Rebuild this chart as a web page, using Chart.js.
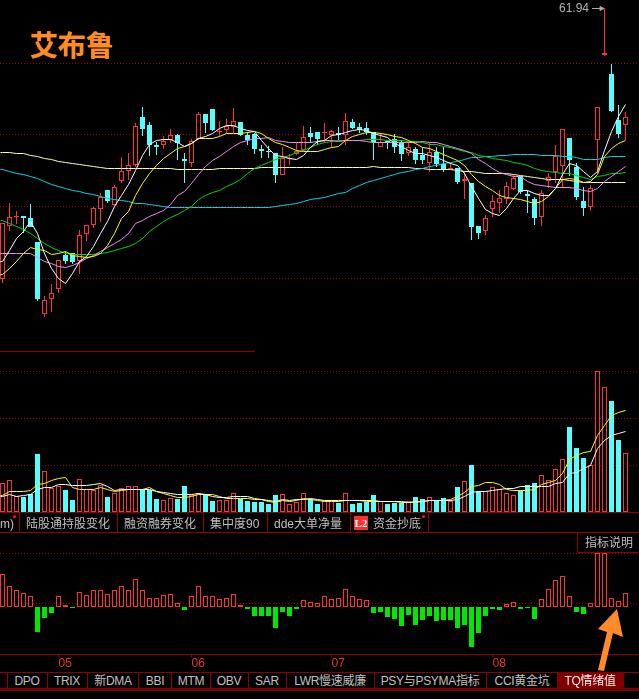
<!DOCTYPE html>
<html>
<head>
<meta charset="utf-8">
<title>艾布鲁</title>
<script src="https://cdn.jsdelivr.net/npm/chart.js@4/dist/chart.umd.min.js"></script>
<style>
  html, body { margin: 0; padding: 0; background: #000; overflow: hidden; }
  #page { position: relative; width: 639px; height: 699px; background: #000; overflow: hidden; }
  canvas { position: absolute; left: 0; display: block; }
  .t { position: absolute; white-space: nowrap; color: #c0c0c0; font: 12px/14px "Liberation Sans", "Noto Sans CJK SC", sans-serif; }
  .row2 .t { top: 674px; letter-spacing: -0.3px; transform: translateX(-50%); }
  .line { position: absolute; background: #8c0000; }
  .dot { position: absolute; width: 3px; height: 3px; background: #ff1414; border-radius: 50%; }
  #logo { position: absolute; left: 30px; top: 26px; color: #ff8c1e; font: 700 28px/36px "Noto Sans CJK SC", sans-serif; text-shadow: 0 0 1px #ff8c1e; }
</style>
</head>
<body>
<div id="page">
  <canvas id="chartPrice" width="639" height="352" style="top:0"></canvas>
  <canvas id="chartVol" width="639" height="161" style="top:351px"></canvas>
  <canvas id="chartTq" width="639" height="122" style="top:550px"></canvas>

  <div id="logo">艾布鲁</div>
  <div class="t" id="hiLabel" style="left:559px;top:1px;color:#b4b4b4"></div>
  <svg style="position:absolute;left:590px;top:3px" width="16" height="10">
    <path d="M2 5.5H13M10 3.5L14 5.5L10 7.5Z" stroke="#a8a8a8" fill="#a8a8a8" stroke-width="1"/>
  </svg>

  <div class="line" style="left:0;top:351px;width:255px;height:1px"></div>

  <!-- upper tab row -->
  <div class="line" style="left:0;top:512px;width:639px;height:1px"></div>
  <div class="line" style="left:0;top:532px;width:639px;height:1px"></div>
  <div class="line" style="left:19px;top:512px;width:1px;height:20px"></div>
  <div class="line" style="left:117px;top:512px;width:1px;height:20px"></div>
  <div class="line" style="left:203px;top:512px;width:1px;height:20px"></div>
  <div class="line" style="left:267px;top:512px;width:1px;height:20px"></div>
  <div class="line" style="left:350px;top:512px;width:1px;height:20px"></div>
  <div class="line" style="left:428px;top:512px;width:1px;height:20px"></div>
  <div class="t" style="left:0;top:517px">m)</div>
  <div class="dot" style="left:13px;top:515px"></div>
  <div class="t" style="left:26px;top:517px">陆股通持股变化</div>
  <div class="t" style="left:124px;top:517px">融资融券变化</div>
  <div class="t" style="left:210px;top:517px">集中度90</div>
  <div class="t" style="left:274px;top:517px">dde大单净量</div>
  <div style="position:absolute;left:354px;top:516px;width:14px;height:14px;background:#ff2d2d;color:#fff;font:700 11px/14px 'Liberation Serif',serif;text-align:center">L2</div>
  <div class="t" style="left:373px;top:517px">资金抄底</div>
  <div class="dot" style="left:422px;top:515px"></div>

  <!-- indicator note box -->
  <div class="line" style="left:577px;top:532px;width:1px;height:21px"></div>
  <div class="line" style="left:577px;top:552px;width:62px;height:1px"></div>
  <div class="t" style="left:585px;top:536px">指标说明</div>

  <!-- lower tab row -->
  <div class="line" style="left:0;top:672px;width:639px;height:1px"></div>
  <div class="line" style="left:0;top:688px;width:639px;height:3px;background:#800000"></div>
  <div class="line" style="left:7px;top:672px;width:1px;height:17px"></div>
  <div class="line" style="left:47px;top:672px;width:1px;height:17px"></div>
  <div class="line" style="left:87px;top:672px;width:1px;height:17px"></div>
  <div class="line" style="left:138px;top:672px;width:1px;height:17px"></div>
  <div class="line" style="left:171px;top:672px;width:1px;height:17px"></div>
  <div class="line" style="left:210px;top:672px;width:1px;height:17px"></div>
  <div class="line" style="left:248px;top:672px;width:1px;height:17px"></div>
  <div class="line" style="left:286px;top:672px;width:1px;height:17px"></div>
  <div class="line" style="left:374px;top:672px;width:1px;height:17px"></div>
  <div class="line" style="left:486px;top:672px;width:1px;height:17px"></div>
  <div style="position:absolute;left:557px;top:672px;width:67px;height:17px;background:#800000"></div>
  <div class="row2">
    <div class="t" style="left:27px">DPO</div>
    <div class="t" style="left:67px">TRIX</div>
    <div class="t" style="left:113px">新DMA</div>
    <div class="t" style="left:155px">BBI</div>
    <div class="t" style="left:191px">MTM</div>
    <div class="t" style="left:229px">OBV</div>
    <div class="t" style="left:267px">SAR</div>
    <div class="t" style="left:330px">LWR慢速威廉</div>
    <div class="t" style="left:430px">PSY与PSYMA指标</div>
    <div class="t" style="left:522px">CCI黄金坑</div>
    <div class="t" style="left:590px;color:#f0f0f0">TQ情绪值</div>
  </div>

  <svg style="position:absolute;left:0;top:0;pointer-events:none" width="639" height="699">
    <polygon fill="#ff8c28" points="598,670 604,671 613,633 623,637 617,609 598,629 607,632"/>
  </svg>
</div>

<script>
// --- price panel (daily candles) ---
const opens = [
  34.81,40.14,41.04,41.14,40.91,38.54,31.31,32.81,33.81,37.24,
  37.41,36.67,39.31,40.27,41.81,43.74,42.27,44.67,45.61,46.21,
  51.01,50.24,48.21,48.21,48.74,49.21,46.84,46.47,48.87,51.34,
  51.84,49.54,49.74,50.07,50.54,49.24,49.31,47.81,47.64,47.41,
  45.27,46.84,47.37,47.74,49.47,49.54,49.44,49.24,49.47,49.21,
  50.54,50.07,49.94,49.54,48.04,48.67,48.81,48.47,47.47,47.84,
  47.24,46.47,47.57,46.31,45.74,45.91,44.61,44.44,40.11,39.67,
  41.87,42.41,42.81,43.84,45.17,43.34,42.81,41.07,44.61,45.54,
  46.11,48.94,46.04,42.64,42.07,48.71,57.24,55.34,50.71,50.21
];
const closes = [
  40.41,41.01,41.14,40.97,40.01,32.84,32.71,33.41,36.71,36.64,
  36.57,39.21,40.21,41.91,43.07,42.67,44.01,45.61,46.27,50.11,
  49.87,48.24,48.07,48.61,49.27,48.41,46.67,48.67,51.31,50.41,
  49.74,49.67,50.11,50.61,49.21,48.74,47.84,47.67,47.51,45.24,
  46.97,46.97,47.67,49.01,49.04,48.81,49.57,49.64,49.21,50.61,
  49.97,49.74,49.54,48.51,48.51,48.54,48.04,47.37,48.01,46.77,
  46.74,47.51,46.34,45.81,45.94,44.57,44.81,40.04,39.47,40.91,
  42.61,42.91,44.11,44.91,43.57,43.17,40.97,43.47,45.07,47.17,
  49.81,46.74,43.07,41.94,43.91,52.07,57.41,51.67,49.34,51.01
];
const highs = [
  40.41,42.41,41.64,41.14,42.31,38.54,33.14,34.34,36.74,37.57,
  37.47,39.74,40.21,42.01,43.41,43.74,44.24,47.07,47.41,50.41,
  52.01,50.51,48.57,49.17,49.84,49.34,47.41,48.81,51.54,51.34,
  51.84,50.64,50.84,51.94,50.54,49.57,49.47,48.24,48.14,47.41,
  48.01,47.34,48.57,50.14,50.07,49.54,50.47,49.74,50.07,51.41,
  50.84,50.47,50.54,49.54,49.47,48.67,49.34,48.74,48.57,48.07,
  47.91,48.41,48.07,48.07,46.41,45.91,45.57,44.44,40.11,41.24,
  43.24,43.74,44.57,45.24,45.17,43.74,43.07,43.74,45.47,48.24,
  49.81,48.94,46.41,44.07,44.24,52.07,61.94,56.34,52.24,51.54
];
const lows = [
  34.41,39.67,40.34,39.41,40.01,32.67,31.07,31.57,33.47,36.34,
  36.34,35.34,38.67,39.97,40.54,42.41,42.07,44.47,44.74,46.07,
  49.17,47.14,47.24,47.84,48.41,46.74,44.47,46.07,48.74,49.41,
  49.67,49.14,49.41,49.41,49.17,48.24,47.34,46.91,46.91,44.47,
  45.24,46.24,47.24,47.67,48.41,48.24,48.41,48.01,48.74,48.24,
  49.81,49.47,49.24,46.74,48.01,47.81,47.47,46.64,47.14,46.34,
  46.34,45.57,46.07,45.57,45.74,44.34,42.84,38.74,38.87,39.24,
  41.07,41.41,42.34,43.74,43.34,41.47,40.24,40.17,43.91,44.47,
  43.91,45.17,42.74,41.17,41.67,45.41,57.17,51.57,48.97,48.74
];

// moving averages
const ma5 = [
  36.57,37.74,38.91,39.57,40.57,39.41,37.41,35.91,34.91,34.41,
  35.41,36.57,37.07,38.07,39.41,40.57,42.07,43.24,44.24,45.74,
  47.24,48.24,48.74,48.81,48.81,48.47,48.14,48.41,48.87,49.14,
  49.34,49.91,50.24,50.17,49.91,49.67,49.57,48.74,47.91,47.24,
  47.07,46.91,46.81,47.24,48.01,48.57,48.74,49.21,49.31,49.47,
  49.67,49.81,49.67,49.41,49.24,49.01,48.41,48.07,47.74,47.41,
  47.41,47.24,47.01,46.67,46.41,46.17,45.41,44.07,42.91,41.81,
  41.41,41.17,41.91,42.91,43.74,43.67,43.34,43.24,43.24,43.91,
  45.24,46.41,46.24,45.57,45.01,45.57,47.74,49.57,51.07,52.24
];
const ma10 = [
  35.31,35.91,36.57,37.34,37.97,37.81,37.67,37.24,37.37,37.57,
  37.17,37.07,36.97,37.07,37.41,38.24,39.41,40.91,41.57,43.24,
  44.41,45.41,46.24,46.91,47.41,47.91,48.14,48.41,48.84,48.91,
  48.91,49.14,49.34,49.41,49.41,49.47,49.57,49.41,48.91,48.47,
  48.24,48.01,47.74,47.64,47.57,47.64,47.81,47.97,48.14,48.74,
  49.07,49.31,49.51,49.47,49.41,49.31,49.14,48.97,48.74,48.41,
  48.01,47.84,47.57,47.31,47.01,46.67,46.17,45.24,44.57,44.07,
  43.67,43.17,43.01,42.91,42.74,42.57,42.34,42.57,43.07,43.91,
  44.74,44.91,44.74,44.47,44.57,45.24,47.07,47.91,48.41,48.67
];
const ma20 = [
  37.41,37.41,37.41,37.41,37.41,37.01,36.57,36.34,36.14,36.01,
  36.24,36.51,36.84,37.17,37.57,38.01,38.41,38.84,39.41,40.34,
  40.74,41.07,41.41,41.74,42.24,43.24,43.57,44.41,45.24,46.07,
  46.67,47.14,47.57,48.07,48.47,48.74,48.84,48.91,48.97,48.74,
  48.57,48.54,48.51,48.51,48.51,48.57,48.67,48.67,48.64,48.67,
  48.74,48.67,48.57,48.51,48.51,48.51,48.51,48.51,48.51,48.54,
  48.57,48.54,48.47,48.31,48.07,47.91,47.67,47.41,46.74,46.34,
  45.91,45.51,45.24,45.14,45.07,44.57,44.34,44.14,44.07,43.97,
  43.97,44.01,43.91,43.74,43.64,43.91,44.57,45.07,45.57,46.14
];
const ma30 = [
  40.67,40.41,40.07,39.74,39.34,38.91,38.34,38.01,37.67,37.41,
  37.31,37.24,37.24,37.31,37.41,37.51,37.67,37.84,38.07,38.34,
  38.91,39.57,40.07,40.57,40.97,41.34,41.67,42.07,42.74,43.24,
  43.47,43.74,44.07,44.41,44.74,45.34,45.91,46.24,46.51,46.74,
  46.97,47.24,47.51,47.74,48.01,48.31,48.51,48.64,48.67,48.67,
  48.71,48.74,48.77,48.81,48.77,48.74,48.71,48.67,48.61,48.57,
  48.54,48.31,48.24,48.14,47.97,47.81,47.64,47.47,47.24,47.07,
  46.94,46.81,46.67,46.51,46.34,46.17,45.94,45.74,45.61,45.51,
  45.41,45.34,45.17,44.97,44.81,45.07,45.21,45.34,45.41,45.51
];
const ma60 = [
  47.54,47.51,47.41,47.34,47.17,47.07,46.91,46.74,46.64,46.54,
  46.41,46.31,46.17,46.11,46.01,45.94,45.91,45.91,45.91,45.91,
  45.87,45.87,45.87,45.84,45.84,45.81,45.81,45.81,45.81,45.81,
  45.81,45.84,45.87,45.91,45.91,45.94,45.94,45.97,45.97,45.97,
  45.97,45.97,45.97,46.01,46.01,46.01,46.01,46.01,46.01,46.01,
  46.01,46.01,46.01,46.07,46.04,46.01,46.01,45.97,45.97,45.91,
  45.91,45.81,45.81,45.81,45.77,45.71,45.64,45.57,45.51,45.44,
  45.41,45.37,45.34,45.27,45.17,45.07,45.01,44.94,44.81,44.77,
  44.74,44.67,44.61,44.54,44.51,44.51,44.51,44.51,44.51,44.51
];
const ma120 = [
  45.81,45.64,45.41,45.27,45.11,44.91,44.64,44.31,44.07,43.87,
  43.74,43.61,43.44,43.31,43.14,42.94,42.81,42.71,42.57,42.44,
  42.37,42.27,42.17,42.07,42.04,42.01,41.97,41.97,42.01,42.01,
  42.01,42.01,42.01,42.01,42.01,42.01,42.01,42.01,42.04,42.11,
  42.17,42.31,42.41,42.57,42.74,42.91,43.01,43.21,43.34,43.47,
  43.84,44.17,44.47,44.67,44.87,45.14,45.31,45.47,45.64,45.81,
  45.94,46.14,46.24,46.41,46.51,46.64,46.81,46.97,47.04,47.07,
  47.14,47.17,47.24,47.27,47.31,47.31,47.27,47.24,47.21,47.17,
  47.14,47.07,46.97,46.84,46.77,46.81,47.01,47.07,47.11,47.14
];

// --- volume panel ---
const volume = [
  29.3,32.3,16,14.7,18.3,57.7,41.3,23.7,25.7,21.7,
  11.7,33.3,22.7,21.7,26.7,14.7,18.7,24.3,26.3,26.3,
  21.7,22.3,12.7,12.3,13.7,12.7,25.7,16.7,19.3,17.3,
  10.7,11.7,11.7,19.3,13.3,10.7,9.7,9.7,8,16.7,
  18.3,7.7,10.3,19.3,12.7,7.7,11.7,11.7,8.7,19.3,
  7.7,8.7,10,16.7,10.7,7.7,8.7,8.7,11.3,14.7,
  12.7,15.3,11.7,14.3,10.7,24.7,31.3,46.7,21.3,21.3,
  25.3,22.7,19.3,17.3,21.3,26.7,28.7,37.3,32.3,43.3,
  53.3,84.7,63.7,53.7,46.7,140.7,125.3,110.7,71.7,59.3
];
const volMaWhite = [
  15.3,17.7,16,16.7,17.7,22.3,25,25,27.3,27.3,
  26.7,26.7,26.7,27.3,28.3,25.7,21.7,22.3,22.3,22.3,
  23,23,21,20,18.3,17.7,17.7,17.7,18.3,17.7,
  16,15,15,16,16,16,13.3,13,11.7,11,
  12.3,11.7,12.3,12.7,13.3,12.3,12,12,11.7,11.7,
  11.3,11.3,11.3,11.3,11,10.7,10.3,10.3,10,10.7,
  11,11.7,12,12,12,12.3,16,19.3,20.3,20.7,
  22,23,23.3,24,25.3,25.3,25.3,25.3,26,28.3,
  30,38.3,40,43.3,46.7,63.3,71.7,76.7,79,80
];
const volMaYellow = [
  16.7,21,21,21,21.7,27.7,29,31.7,34,34.3,
  24.3,23,23,23,24.3,23,20.3,21.7,22.3,22.3,
  23,24.3,21,18.3,16.7,15,15,15.7,17.7,17.7,
  17.3,15.7,13.7,14,13.3,13.3,12.3,12.3,10.7,10,
  11.3,11,12,13.7,12.7,12,10.7,10.7,10.7,11.7,
  12,11.3,10.7,11,10.7,10.7,10.7,10,9.3,10,
  10.7,11.7,12,12,12.3,16,19.3,26,26.7,29.3,
  29.3,28,22.7,21.3,21.3,21.7,22.7,27.3,29.3,31.7,
  38.3,52.7,56.7,59.3,60.7,76.7,86.7,96.7,99.7,101.3
];

// --- TQ情绪值 panel ---
const tq = [
  33.3,20.7,16.7,14.3,10.7,-25,-11,-6,10.7,1.7,
  -1,15.3,11.7,17.3,17.3,12.7,17.3,21.3,17.3,28.3,
  17.3,9.3,9.3,11.7,12.7,4.3,-3,10.7,21.3,11.3,
  10.7,8.3,9.3,12.7,1.7,-2,-9.3,-9.3,-9.3,-21,
  -5.3,-9.3,-2,7.3,5.3,4.3,11.3,8.3,9.3,18.3,
  11.3,8.3,7.3,-6,-5.3,-10,-12.3,-19.3,-8.3,-18.3,
  -13.3,-9.3,-14.3,-13.3,-13.3,-21,-18.3,-40,-26,-9.3,
  -1.5,-3,3.3,5.3,-1.5,-1.3,-12,8,18.3,27.3,
  30.7,11.3,-5,-7,4.3,54,54,9.3,6.3,14.3
];

// axis marks
const priceGrid = [56.44, 49.29, 42.09, 34.94];
const volGrid = [47, 94, 141];
const tqGrid = [3.67, 54];
const monthTicks = [8, 27, 47, 70];
const monthLabels = ["05", "06", "07", "08"];

const RED = "#ff3232";
const CYAN = "#54ffff";
const GREEN = "#00e800";
const GRID = "#a00000";
const X_MIN = -0.35714;
const X_MAX = 90.92857;

const pts = arr => arr.map((v, i) => ({ x: i, y: v }));
const isUp = i => closes[i] >= opens[i];

document.getElementById("hiLabel").textContent = Math.max(...highs).toFixed(2);

Chart.defaults.animation = false;
Chart.defaults.font.family = '"Liberation Sans", sans-serif';

// keep edges on whole pixels, the original has no antialiasing
const snapMarks = {
  id: "snapMarks",
  afterDatasetsUpdate(chart) {
    chart.getSortedVisibleDatasetMetas().forEach(meta => {
      meta.data.forEach(el => {
        el.x = Math.floor(el.x) + 0.5;
        if (meta.type === "bar") {
          el.y = Math.round(el.y);
          el.base = Math.round(el.base);
        } else {
          el.y = Math.floor(el.y) + 0.5;
        }
      });
    });
  }
};

function xAxis() {
  return { type: "linear", display: false, bounds: "data", offset: false, min: X_MIN, max: X_MAX, grid: { offset: false } };
}

function yAxis(min, max, grid) {
  return {
    type: "linear", bounds: "data", min, max,
    ticks: { display: false },
    border: { display: false, dash: [1, 2] },
    grid: { color: GRID, lineWidth: 1, drawTicks: false },
    afterBuildTicks: axis => { axis.ticks = grid.map(v => ({ value: v })); },
    afterFit: axis => { axis.width = 0; }
  };
}

// averages run off the left edge of the window, so hold the first value out to it
function lineSet(values, color, order) {
  return {
    type: "line",
    data: [{ x: X_MIN, y: values[0] }].concat(pts(values)),
    borderColor: color, borderWidth: 1, pointRadius: 0, tension: 0, order
  };
}

function barBase() {
  return { grouped: false, inflateAmount: 0, borderSkipped: false };
}

function baseOptions(scales) {
  return {
    responsive: false,
    devicePixelRatio: 1,
    animation: false,
    layout: { padding: 0 },
    events: [],
    plugins: { legend: { display: false }, tooltip: { enabled: false } },
    scales
  };
}

// candles + averages
new Chart(document.getElementById("chartPrice"), {
  type: "bar",
  data: {
    datasets: [
      lineSet(ma60, "#ffffa8", 6),
      lineSet(ma120, "#00d8e8", 5),
      lineSet(ma30, "#00d800", 4),
      lineSet(ma20, "#f08cf0", 3),
      lineSet(ma10, "#ffff00", 2),
      lineSet(ma5, "#ffffff", 1),
      Object.assign(barBase(), {
        data: opens.map((o, i) => ({ x: i, y: [o, closes[i]] })),
        barThickness: 5,
        borderWidth: 1,
        backgroundColor: opens.map((_, i) => isUp(i) ? "#000000" : CYAN),
        borderColor: opens.map((_, i) => isUp(i) ? RED : CYAN),
        order: 10
      }),
      Object.assign(barBase(), {
        data: lows.map((l, i) => ({ x: i, y: [l, highs[i]] })),
        barThickness: 1,
        borderWidth: 0,
        backgroundColor: lows.map((_, i) => isUp(i) ? RED : CYAN),
        order: 11
      })
    ]
  },
  options: baseOptions({ x: xAxis(), y: yAxis(27.54, 62.74, priceGrid) }),
  plugins: [snapMarks]
});

// volume
new Chart(document.getElementById("chartVol"), {
  type: "bar",
  data: {
    datasets: [
      lineSet(volMaYellow, "#ffff00", 2),
      lineSet(volMaWhite, "#ffffff", 1),
      Object.assign(barBase(), {
        data: pts(volume),
        barThickness: 5,
        borderWidth: 1,
        backgroundColor: volume.map((_, i) => isUp(i) ? "#000000" : CYAN),
        borderColor: volume.map((_, i) => isUp(i) ? RED : CYAN),
        order: 10
      })
    ]
  },
  options: baseOptions({ x: xAxis(), y: yAxis(0, 161, volGrid) }),
  plugins: [snapMarks]
});

// TQ sentiment bars with the month axis
const tqX = Object.assign(xAxis(), {
  display: true,
  border: { display: true, color: "#8c0000", width: 1 },
  grid: { offset: false, drawOnChartArea: false, color: "#8c0000", tickLength: 3 },
  ticks: {
    color: "#f03232", autoSkip: false, maxRotation: 0, align: "start", padding: -1,
    font: { size: 12 },
    callback: v => monthLabels[monthTicks.indexOf(v)]
  },
  afterBuildTicks: axis => { axis.ticks = monthTicks.map(v => ({ value: v })); },
  afterFit: axis => { axis.height = 18; }
});

new Chart(document.getElementById("chartTq"), {
  type: "bar",
  data: {
    datasets: [
      Object.assign(barBase(), {
        data: pts(tq),
        barThickness: 5,
        borderWidth: 1,
        backgroundColor: tq.map(v => v >= 0 ? "#000000" : GREEN),
        borderColor: tq.map(v => v >= 0 ? RED : GREEN)
      })
    ]
  },
  options: baseOptions({ x: tqX, y: yAxis(-47, 57, tqGrid) }),
  plugins: [snapMarks]
});
</script>
</body>
</html>
